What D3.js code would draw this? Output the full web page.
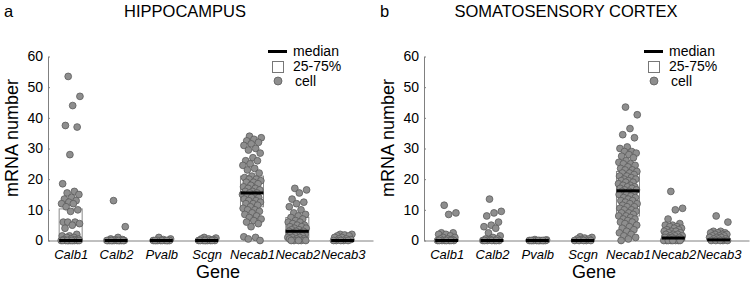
<!DOCTYPE html>
<html>
<head>
<meta charset="utf-8">
<script src="https://cdn.jsdelivr.net/npm/d3@7"></script>
<style>
  body { margin: 0; background: #fff; }
  svg { font-family: "Liberation Sans", Arial, sans-serif; }
</style>
</head>
<body>
<div id="chart"></div>
<script>
// genes on the x axis
var genes = ["Calb1", "Calb2", "Pvalb", "Scgn", "Necab1", "Necab2", "Necab3"];
var yTicks = [0, 10, 20, 30, 40, 50, 60];

// panel a - hippocampus, mRNA count per cell
var hipCalb1 = [53.5, 47, 44, 37.5, 37, 28, 18.5, 16, 15.5, 15, 14, 13.5, 13, 12.5, 12, 12, 11, 10, 9.5, 6, 6, 6, 5.5, 5, 4, 2, 1.5, 1.5, 1, 1, 0.5, 0.5, 0.3, 0.2, 0, 0, 0, 0, 0, 0, 0, 0, 0, 0, 0];
var hipCalb2 = [13, 4.5, 1, 0.5, 0.3, 0.2, 0, 0, 0, 0, 0, 0, 0, 0, 0, 0, 0, 0];
var hipPvalb = [1, 0.5, 0.3, 0, 0, 0, 0, 0, 0, 0, 0, 0, 0];
var hipScgn = [1, 0.8, 0.5, 0.5, 0.3, 0, 0, 0, 0, 0, 0, 0, 0, 0];
var hipNecab1 = [34, 33.5, 33, 32.5, 32, 31.5, 31, 30, 29.5, 28.5, 27, 26, 26, 25, 24.5, 23.5, 23, 22, 21, 20.5, 20, 20, 19.5, 19, 19, 18.5, 18, 17.5, 17, 17, 16.5, 16, 16, 15.5, 15.5, 15, 15, 14.5, 14, 14, 13.5, 13, 13, 12.5, 12, 12, 11.5, 11, 10.5, 10, 10, 9.5, 9, 8.5, 8, 7.5, 7, 6.5, 6, 5.5, 4.5, 1.2, 1, 0.5, 0];
var hipNecab2 = [17, 16.5, 15.5, 13.5, 12.5, 12, 11, 10, 9, 8.5, 8, 7.5, 7, 6.5, 6, 6, 5.5, 5, 5, 4.5, 4.5, 4, 4, 3.5, 3.5, 3, 3, 3, 2.5, 2.5, 2, 2, 2, 1.5, 1.5, 1, 1, 1, 0.5, 0.5, 0.5, 0, 0, 0, 0, 0];
var hipNecab3 = [2, 2, 1.8, 1.5, 1.5, 1, 1, 0.5, 0.5, 0.3, 0, 0, 0, 0, 0];

// panel b - somatosensory cortex
var ctxCalb1 = [11.5, 9, 8.5, 2.5, 2.5, 2, 2, 1.5, 1, 1, 0.5, 0.5, 0.3, 0, 0, 0, 0, 0, 0, 0, 0];
var ctxCalb2 = [13.5, 9.5, 9, 8, 6, 5, 4.5, 4, 2.5, 1.5, 1, 0.5, 0.5, 0.3, 0, 0, 0, 0, 0, 0, 0];
var ctxPvalb = [0.3, 0.2, 0, 0, 0, 0, 0, 0, 0, 0, 0, 0, 0];
var ctxScgn = [1.2, 1, 0.8, 0.5, 0.5, 0.3, 0, 0, 0, 0, 0];
var ctxNecab1 = [43.5, 41, 36.5, 34.5, 33.5, 30.5, 30, 29, 29, 28.5, 28, 27.5, 27, 26, 25.5, 25, 25, 24.5, 24, 23.5, 23, 23, 22.5, 22, 22, 21.5, 21, 21, 20.5, 20, 20, 19.5, 19.5, 19, 19, 18.5, 18, 18, 17.5, 17.5, 17, 17, 16.5, 16.5, 16, 16, 15.5, 15, 15, 14.5, 14, 14, 13.5, 13, 13, 12.5, 12, 12, 11.5, 11, 11, 10.5, 10, 10, 9.5, 9, 9, 8.5, 8, 8, 7.5, 7, 7, 6.5, 6, 6, 5.5, 5, 4.5, 4, 3.5, 3, 2.5, 2, 1.5, 1, 0.5, 0];
var ctxNecab2 = [16, 10.5, 10, 7, 5.5, 5, 5, 4.5, 4.5, 4, 4, 3.5, 3.5, 3, 3, 3, 2.5, 2.5, 2, 2, 2, 1.5, 1.5, 1.5, 1, 1, 1, 1, 0.5, 0.5, 0.5, 0.5, 0, 0, 0, 0, 0, 0, 0, 0];
var ctxNecab3 = [8, 6, 3, 3, 2.5, 2.5, 2.5, 2, 2, 2, 1.5, 1.5, 1.5, 1, 1, 1, 0.5, 0.5, 0.5, 0, 0, 0, 0, 0];

// box stats (25%, median, 75%)
var hipQ1 = [0, 0, 0, 0, 11, 1, 0];
var hipMed = [0, 0, 0, 0, 15.5, 3, 0];
var hipQ3 = [10.3, 0, 0, 0, 21, 7.5, 0];
var ctxQ1 = [0, 0, 0, 0, 8, 0, 0];
var ctxMed = [0, 0, 0, 0, 16.2, 0.8, 0.2];
var ctxQ3 = [0.3, 0, 0, 0, 22.5, 1.8, 0.4];

var width = 750, height = 281;
var svg = d3.select("#chart").append("svg")
    .attr("width", width)
    .attr("height", height);

function drawPanel(offsetX, letter, title, titleX, cells, q1, med, q3) {
    var g = svg.append("g").attr("transform", "translate(" + offsetX + ",0)");

    var x = d3.scaleLinear().domain([0.5, 7.67]).range([48, 373]);
    var y = d3.scaleLinear().domain([0, 60]).range([240.5, 56.5]);
    var boxW = 23;

    // panel letter and title
    g.append("text").attr("x", 4).attr("y", 17)
        .style("font-size", "16.5px").text(letter);
    g.append("text").attr("x", titleX).attr("y", 17)
        .attr("text-anchor", "middle")
        .style("font-size", "16.5px").text(title);

    // y axis
    var yAxis = d3.axisLeft(y).tickValues(yTicks).tickSizeInner(-2).tickSizeOuter(0).tickPadding(5);
    var ya = g.append("g").attr("transform", "translate(48,0)").call(yAxis);
    ya.select(".domain").attr("stroke", "#808080");
    ya.selectAll(".tick line").attr("stroke", "#808080");
    ya.selectAll("text").style("font-size", "14px").attr("fill", "#000");

    // x axis
    var xAxis = d3.axisBottom(x).tickValues(d3.range(1, 8)).tickSize(0).tickPadding(9)
        .tickFormat(function(d) { return genes[d - 1]; });
    var xa = g.append("g").attr("transform", "translate(0," + y(0) + ")").call(xAxis);
    xa.select(".domain").attr("stroke", "#808080");
    xa.selectAll("text").style("font-size", "13px").style("font-style", "italic").attr("fill", "#000");

    g.append("text").attr("x", 218).attr("y", 278)
        .attr("text-anchor", "middle").style("font-size", "18px").text("Gene");
    g.append("text").attr("transform", "translate(18,138) rotate(-90)")
        .attr("text-anchor", "middle").style("font-size", "18px").text("mRNA number");

    // 25-75% boxes
    g.selectAll(".box").data(genes).enter().append("rect")
        .attr("class", "box")
        .attr("x", function(d, i) { return x(i + 1) - boxW / 2; })
        .attr("y", function(d, i) { return y(q3[i]); })
        .attr("width", boxW)
        .attr("height", function(d, i) { return y(q1[i]) - y(q3[i]); })
        .attr("fill", "none")
        .attr("stroke", "#8a8a8a")
        .attr("stroke-width", 1);

    // cells, jittered sideways
    cells.forEach(function(vals, gi) {
        g.append("g").selectAll("circle").data(vals).enter().append("circle")
            .attr("cx", function(d, i) {
                var j = ((i * 0.6180339887 + 0.37) % 1) - 0.5;
                return x(gi + 1) + j * 19;
            })
            .attr("cy", function(d) { return y(d); })
            .attr("r", 3.4)
            .attr("fill", "#8e8e8e")
            .attr("stroke", "#5c5c5c")
            .attr("stroke-width", 0.8);
    });

    // medians on top
    g.selectAll(".med").data(genes).enter().append("line")
        .attr("class", "med")
        .attr("x1", function(d, i) { return x(i + 1) - boxW / 2; })
        .attr("x2", function(d, i) { return x(i + 1) + boxW / 2; })
        .attr("y1", function(d, i) { return y(med[i]); })
        .attr("y2", function(d, i) { return y(med[i]); })
        .attr("stroke", "#000")
        .attr("stroke-width", 3);

    // legend
    var lg = g.append("g");
    lg.append("line").attr("x1", 268).attr("x2", 287).attr("y1", 51.5).attr("y2", 51.5)
        .attr("stroke", "#000").attr("stroke-width", 3);
    lg.append("rect").attr("x", 272.5).attr("y", 61.5).attr("width", 11).attr("height", 11)
        .attr("fill", "#fff").attr("stroke", "#777").attr("stroke-width", 1);
    lg.append("circle").attr("cx", 278).attr("cy", 81).attr("r", 4)
        .attr("fill", "#8e8e8e").attr("stroke", "#5c5c5c").attr("stroke-width", 0.8);
    var labels = ["median", "25-75%", "cell"];
    lg.selectAll(".lt").data(labels).enter().append("text")
        .attr("x", function(d, i) { return i === 2 ? 295 : 293; })
        .attr("y", function(d, i) { return 56 + i * 15; })
        .style("font-size", "14px").text(function(d) { return d; });
}

drawPanel(0, "a", "HIPPOCAMPUS", 185,
    [hipCalb1, hipCalb2, hipPvalb, hipScgn, hipNecab1, hipNecab2, hipNecab3],
    hipQ1, hipMed, hipQ3);
drawPanel(376, "b", "SOMATOSENSORY CORTEX", 190,
    [ctxCalb1, ctxCalb2, ctxPvalb, ctxScgn, ctxNecab1, ctxNecab2, ctxNecab3],
    ctxQ1, ctxMed, ctxQ3);
</script>
</body>
</html>
